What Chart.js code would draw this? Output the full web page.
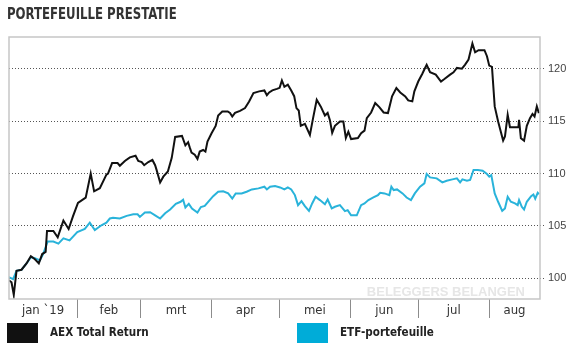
<!DOCTYPE html>
<html>
<head>
<meta charset="utf-8">
<script src="https://cdn.jsdelivr.net/npm/chart.js@4.4.1/dist/chart.umd.min.js"></script>
<style>
  html, body { margin: 0; padding: 0; background: #fff; }
  #wrap { position: relative; width: 566px; height: 343px; overflow: hidden; }
  #grafiek { position: absolute; left: 0; top: 0; }
  .titel { position: absolute; left: 7px; top: 5px; font: bold 15px "DejaVu Sans Condensed", sans-serif; color: #333; transform: scaleX(0.87); transform-origin: left top; white-space: nowrap; }
  .blok { position: absolute; top: 323px; width: 31px; height: 22px; }
  .naam { position: absolute; top: 324px; font: bold 13px "DejaVu Sans Condensed", sans-serif; color: #222; transform: scaleX(0.89); transform-origin: left top; white-space: nowrap; }
</style>
</head>
<body>
<div id="wrap">
  <canvas id="grafiek" width="566" height="343"></canvas>
  <div class="titel">PORTEFEUILLE PRESTATIE</div>
  <div class="blok" style="left:7px;background:#111"></div>
  <div class="naam" style="left:50px">AEX Total Return</div>
  <div class="blok" style="left:297px;background:#00acd8"></div>
  <div class="naam" style="left:340px">ETF-portefeuille</div>
</div>
<script>
// x = dag van het jaar (1 jan = 0)
const maandLabels = ["jan `19", "feb", "mrt", "apr", "mei", "jun", "jul", "aug"]
const maandGrenzen = [31, 59, 90, 120, 151, 181, 212]
const yTicks = [100, 105, 110, 115, 120]

const aexDag = [1.0, 2.2, 3.2, 4.4, 6.6, 8.8, 10.7, 12.5, 14.2, 15.7, 17.2, 17.8, 20.6, 22.5, 25.0, 27.3, 29.2, 31.4, 34.8, 37.0,
    38.5, 41.0, 43.9, 44.6, 46.4, 48.8, 49.8, 52.0, 54.2, 56.7, 57.9, 59.4, 60.5, 62.3, 64.1, 65.3, 66.0, 67.5, 68.9, 70.9,
    72.6, 74.1, 77.1, 78.6, 79.8, 80.5, 81.3, 82.7, 83.9, 84.9, 86.4, 87.4, 88.3, 90.1, 91.9, 93.0, 94.8, 97.2, 98.2, 99.2,
    100.4, 102.6, 104.8, 106.6, 108.5, 111.0, 113.3, 114.4, 115.4, 116.8, 118.8, 120.0, 121.0, 122.1, 123.6, 125.1, 126.4, 127.4, 128.4, 129.3,
    131.1, 133.3, 134.7, 136.3, 138.1, 139.9, 141.1, 142.1, 143.1, 144.3, 146.5, 148.0, 149.1, 150.2, 151.4, 154.4, 155.8, 157.3, 158.3, 160.2,
    162.0, 163.8, 165.7, 167.6, 169.4, 171.3, 173.0, 175.2, 176.5, 178.3, 179.2, 180.9, 182.7, 183.9, 184.6, 186.1, 188.6, 190.9, 192.4, 194.9,
    196.4, 197.9, 200.1, 201.5, 203.0, 204.7, 205.9, 207.4, 210.0, 211.1, 212.1, 213.3, 214.5, 216.0, 218.2, 219.0, 220.2, 221.2, 224.9, 225.2,
    226.0, 227.4, 228.6, 230.0, 231.1, 232.0, 233.0, 233.9]
const aexWaarde = [99.8, 99.6, 98.4, 100.7, 100.8, 101.4, 102.1, 101.8, 101.4, 102.3, 102.5, 104.5, 104.5, 103.9, 105.5, 104.7, 105.9, 107.2, 107.7, 110.0,
    108.3, 108.6, 109.9, 110.0, 111.0, 111.0, 110.75, 111.2, 111.55, 111.7, 111.2, 111.1, 110.8, 111.1, 111.3, 110.8, 110.3, 109.15, 109.7, 110.2,
    111.5, 113.5, 113.6, 112.7, 113.0, 112.5, 112.0, 111.8, 111.4, 112.1, 112.25, 112.1, 113.06, 113.86, 114.56, 115.55, 115.94, 115.94, 115.8, 115.45,
    115.8, 116.0, 116.26, 116.9, 117.7, 117.86, 117.95, 117.5, 117.76, 117.95, 118.1, 118.2, 118.9, 118.3, 118.5, 117.95, 117.4, 116.26, 116.03, 114.56,
    114.75, 113.7, 115.3, 117.06, 116.4, 115.55, 115.8, 115.1, 113.9, 114.56, 114.98, 114.98, 113.4, 114.0, 113.3, 113.4, 113.86, 114.1, 115.3, 115.84,
    116.74, 116.35, 115.84, 115.78, 117.38, 118.18, 117.76, 117.38, 116.99, 116.9, 117.86, 118.8, 119.55, 120.1, 120.4, 119.7, 119.46, 118.8, 119.04, 119.46,
    119.68, 120.1, 120.03, 120.42, 120.9, 122.43, 121.6, 121.8, 121.8, 121.22, 120.32, 120.2, 116.42, 114.98, 113.15, 113.54, 115.62, 114.43, 114.43, 115.14,
    113.38, 113.15, 114.56, 115.3, 115.7, 115.46, 116.42, 115.78]

const etfDag = [1.0, 2.9, 4.4, 6.6, 8.8, 10.7, 12.5, 14.7, 16.1, 18.1, 20.6, 22.8, 25.0, 27.7, 31.1, 34.4, 36.6, 38.8, 41.7, 43.9,
    45.4, 46.8, 49.8, 52.8, 55.7, 57.6, 58.6, 60.8, 63.1, 65.3, 67.5, 69.7, 71.9, 74.4, 76.5, 77.6, 78.6, 80.1, 81.5, 83.9,
    85.4, 87.1, 88.9, 90.8, 93.0, 95.2, 97.4, 99.2, 100.7, 103.3, 105.5, 107.8, 110.7, 113.3, 114.4, 115.8, 118.0, 120.2, 122.1, 123.6,
    125.1, 126.7, 128.1, 129.6, 131.1, 132.9, 134.3, 135.8, 137.7, 139.9, 141.1, 142.9, 144.3, 146.5, 148.7, 149.9, 151.4, 153.9, 155.8, 157.3,
    159.0, 161.2, 163.2, 164.2, 166.1, 168.2, 169.1, 170.1, 171.6, 174.0, 175.8, 177.7, 179.4, 181.7, 183.6, 184.6, 186.1, 189.0, 191.5, 193.4,
    195.9, 197.9, 199.3, 200.3, 202.3, 203.7, 205.2, 207.1, 209.2, 211.1, 212.1, 213.0, 214.5, 216.0, 217.8, 219.0, 220.2, 221.6, 223.4, 224.6,
    225.2, 226.4, 227.4, 228.6, 230.5, 231.5, 232.3, 233.4, 234.0]
const etfWaarde = [100.1, 99.9, 100.7, 100.8, 101.4, 102.0, 101.9, 101.7, 102.3, 103.5, 103.5, 103.3, 103.8, 103.6, 104.4, 104.7, 105.3, 104.6, 105.05, 105.3,
    105.7, 105.76, 105.7, 105.95, 106.1, 106.1, 105.85, 106.27, 106.3, 106.0, 105.7, 106.2, 106.56, 107.1, 107.3, 107.5, 106.75, 107.1, 106.66, 106.27,
    106.8, 106.9, 107.36, 107.84, 108.26, 108.3, 108.1, 107.6, 108.1, 108.1, 108.26, 108.48, 108.58, 108.74, 108.48, 108.74, 108.8, 108.67, 108.48, 108.67,
    108.48, 107.94, 106.98, 107.36, 106.88, 106.43, 107.14, 107.78, 107.46, 107.07, 107.52, 106.66, 106.82, 106.98, 106.4, 106.5, 106.0, 106.0, 106.98, 107.14,
    107.46, 107.71, 107.94, 108.16, 108.1, 107.94, 108.74, 108.42, 108.48, 108.1, 107.71, 107.46, 108.1, 108.74, 109.06, 109.95, 109.63, 109.54, 109.15, 109.31,
    109.44, 109.54, 109.15, 109.44, 109.31, 109.38, 110.34, 110.34, 110.27, 109.95, 109.7, 109.86, 108.1, 107.3, 106.43, 106.66, 107.78, 107.3, 107.14, 106.98,
    107.46, 106.82, 106.56, 107.3, 107.84, 108.0, 107.6, 108.16, 108.03]

const X_MIN = 1.1
const X_MAX = 234.4
const Y_MIN = 98
const Y_MAX = 123.06

const punten = (dagen, waarden) => dagen.map((d, i) => ({x: d, y: waarden[i]}))

// kader rond plotvlak en watermerk
const kader = {
    id: 'kader',
    beforeDatasetsDraw(chart) {
        const {ctx, chartArea} = chart
        ctx.save()
        ctx.font = 'bold 13px "Liberation Sans", sans-serif'
        ctx.fillStyle = '#e6e6e6'
        ctx.textAlign = 'right'
        ctx.textBaseline = 'alphabetic'
        ctx.fillText('BELEGGERS BELANGEN', chartArea.right - 15, chartArea.bottom - 3)
        ctx.restore()
    },
    afterDatasetsDraw(chart) {
        const {ctx, chartArea} = chart
        ctx.save()
        ctx.strokeStyle = '#c6c6c6'
        ctx.lineWidth = 1.5
        ctx.strokeRect(chartArea.left, chartArea.top, chartArea.width, chartArea.height)
        ctx.restore()
    }
}

new Chart(document.getElementById('grafiek'), {
    type: 'line',
    data: {
        datasets: [{
            label: 'AEX Total Return',
            data: punten(aexDag, aexWaarde),
            borderColor: '#111111',
            borderWidth: 2,
            pointRadius: 0,
            tension: 0
        }, {
            label: 'ETF-portefeuille',
            data: punten(etfDag, etfWaarde),
            borderColor: '#29b3da',
            borderWidth: 2,
            pointRadius: 0,
            tension: 0
        }]
    },
    options: {
        responsive: false,
        animation: false,
        layout: {padding: {top: 37, left: 9, right: 0, bottom: 0}},
        plugins: {
            legend: {display: false},
            tooltip: {enabled: false}
        },
        scales: {
            x: {
                type: 'linear',
                min: X_MIN,
                max: X_MAX,
                afterBuildTicks(scale) {
                    const randen = [X_MIN, ...maandGrenzen, X_MAX]
                    const ticks = []
                    maandLabels.forEach((l, i) => ticks.push({value: (randen[i] + randen[i + 1]) / 2, naam: l}))
                    maandGrenzen.forEach(g => ticks.push({value: g, naam: ''}))
                    ticks.sort((a, b) => a.value - b.value)
                    scale.ticks = ticks
                },
                afterFit(scale) { scale.height = 44 },
                border: {display: false},
                grid: {
                    drawOnChartArea: false,
                    tickLength: 19,
                    color: ctx => (ctx.tick && ctx.tick.naam === '') ? '#8c8c8c' : 'rgba(0,0,0,0)'
                },
                ticks: {
                    autoSkip: false,
                    maxRotation: 0,
                    padding: -15,
                    color: '#333',
                    font: {family: '"Liberation Sans Narrow", "DejaVu Sans Condensed", sans-serif', size: 13},
                    callback: (v, i, ticks) => ticks[i].naam
                }
            },
            y: {
                position: 'right',
                min: Y_MIN,
                max: Y_MAX,
                afterBuildTicks(scale) {
                    scale.ticks = yTicks.map(v => ({value: v}))
                },
                afterFit(scale) { scale.width = 26 },
                border: {display: false, dash: [1, 2]},
                grid: {
                    color: '#555',
                    tickLength: 5,
                    tickBorderDash: [1, 2]
                },
                ticks: {
                    padding: 3,
                    color: '#444',
                    font: {family: '"Liberation Sans", sans-serif', size: 11}
                }
            }
        }
    },
    plugins: [kader]
})
</script>
</body>
</html>
